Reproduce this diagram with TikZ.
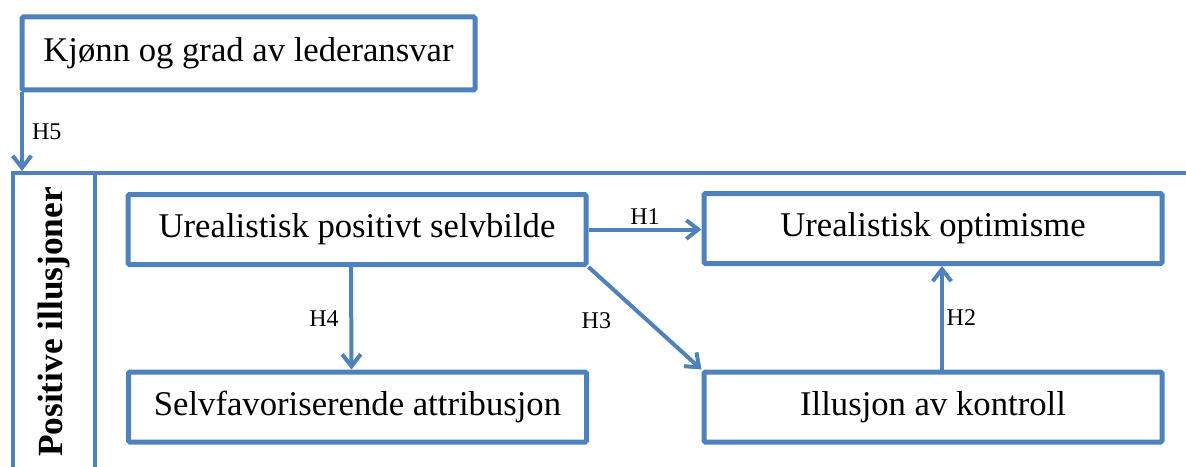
\documentclass[tikz,border=0pt]{standalone}
\usepackage{fontspec}
\setmainfont{Liberation Serif}
\usetikzlibrary{arrows.meta}
\definecolor{frameBlue}{RGB}{79,129,189}
\tikzset{
	hypBox/.style={rectangle, draw=frameBlue, line width=3.75pt, fill=white, minimum width=343.5pt, minimum height=52.5pt, rounded corners=1pt, font=\fontsize{26}{30}\selectfont},
	hypArrow/.style={draw=frameBlue, line width=3pt, -{Straight Barb[length=9pt, width=14pt]}},
	hypLabel/.style={font=\fontsize{18}{21}\selectfont, inner sep=2pt},
	frameLine/.style={draw=frameBlue, line width=3.2pt}
}
\begin{document}
\begin{tikzpicture}[x=0.75pt, y=-0.75pt]
	\useasboundingbox (0,0) rectangle (1186,467);

	% outer frame for the positive illusions
	\draw[frameLine] (13,467) -- (13,173) -- (1186,173);
	\draw[frameLine] (95,173) -- (95,467);
	\node[font=\fontsize{26.5}{30}\selectfont\bfseries, rotate=90](illusjonerLabel) at (54,322){Positive illusjoner};
	\coordinate (frameTop) at (22,171);

	% top box
	\node[hypBox, minimum width=339.75pt, minimum height=54.75pt](kjonnBox) at (248.5,53.5){Kjønn og grad av lederansvar};

	% boxes inside the frame
	\node[hypBox](selvbildeBox) at (357,229.5){Urealistisk positivt selvbilde};
	\node[hypBox](optimismeBox) at (933,228.5){Urealistisk optimisme};
	\node[hypBox](attribusjonBox) at (357.5,407){Selvfavoriserende attribusjon};
	\node[hypBox](kontrollBox) at (933,407){Illusjon av kontroll};

	% hypotheses
	\draw[hypArrow] (selvbildeBox.east) -- node[hypLabel, above]{H1} (selvbildeBox.east -| optimismeBox.west);
	\draw[hypArrow] ([xshift=6.75pt]kontrollBox.north) -- node[hypLabel, right]{H2} ([xshift=6.75pt]optimismeBox.south);
	\draw[hypArrow] (selvbildeBox.south east) -- node[hypLabel, left, xshift=-22pt, yshift=-2pt]{H3} (kontrollBox.north west);
	\draw[hypArrow] ([xshift=-4.5pt]selvbildeBox.south) -- node[hypLabel, left, xshift=-6pt]{H4} ([xshift=-4.5pt]attribusjonBox.north);
	\draw[hypArrow] (frameTop |- kjonnBox.south) -- node[hypLabel, right, xshift=4pt]{H5} (frameTop);
\end{tikzpicture}
\end{document}
